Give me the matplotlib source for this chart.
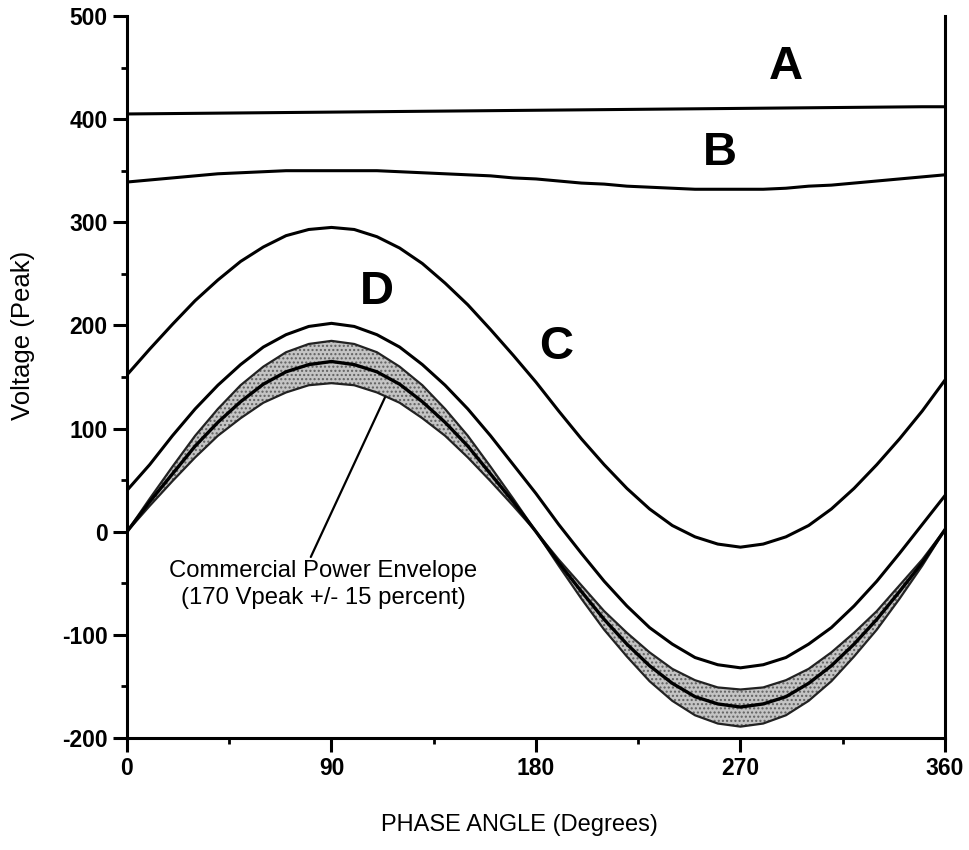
import matplotlib
matplotlib.use("Agg")
import matplotlib.pyplot as plt
from matplotlib.ticker import MultipleLocator

plt.rcParams['font.family'] = ['Liberation Sans', 'DejaVu Sans']
plt.rcParams['axes.unicode_minus'] = False

# phase angle, degrees (every 10)
phase = list(range(0, 361, 10))

# curves (volts peak)
curve_a = [405.0, 405.2, 405.4, 405.6, 405.8, 406.0, 406.2, 406.4, 406.6,
           406.8, 407.0, 407.2, 407.4, 407.6, 407.8, 408.0, 408.2, 408.4,
           408.6, 408.8, 409.0, 409.2, 409.4, 409.6, 409.8, 410.0, 410.2,
           410.4, 410.6, 410.8, 411.0, 411.2, 411.4, 411.6, 411.8, 412.0, 412.0]
curve_b = [339, 341, 343, 345, 347, 348, 349, 350, 350, 350, 350, 350, 349,
           348, 347, 346, 345, 343, 342, 340, 338, 337, 335, 334, 333, 332,
           332, 332, 332, 333, 335, 336, 338, 340, 342, 344, 346]
curve_c = [152, 177, 201, 224, 244, 262, 276, 287, 293, 295, 293, 286, 275,
           260, 241, 220, 196, 171, 145, 117, 90, 65, 42, 22, 6, -5,
           -12, -15, -12, -5, 6, 22, 42, 65, 90, 117, 147]
curve_d = [40, 65, 93, 119, 142, 162, 179, 191, 199, 202, 199, 191, 179,
           162, 142, 119, 93, 65, 37, 7, -21, -48, -72, -93, -109, -122,
           -129, -132, -129, -122, -109, -93, -72, -48, -21, 7, 35]
commercial = [0, 29, 56, 83, 106, 126, 143, 155, 162, 165, 162, 155, 143,
              126, 106, 83, 56, 29, 0, -30, -58, -85, -109, -130, -147, -160,
              -167, -170, -167, -160, -147, -130, -109, -85, -58, -30, 2]
env_outer = [0, 32, 63, 93, 119, 142, 160, 174, 182, 185, 182, 174, 160,
             142, 119, 93, 63, 32, 0, -33, -65, -95, -121, -145, -164, -178,
             -186, -189, -186, -178, -164, -145, -121, -95, -65, -33, 2]
env_inner = [0, 25, 49, 72, 93, 110, 125, 135, 142, 144, 142, 135, 125,
             110, 93, 72, 49, 25, 0, -27, -52, -77, -98, -117, -133, -144,
             -151, -153, -151, -144, -133, -117, -98, -77, -52, -27, 2]

labels = ['A', 'B', 'C', 'D']
label_x = [290, 261, 189, 110]
label_y = [451, 367, 179, 232]

fig = plt.figure(figsize=(9.7, 8.5), dpi=100)
ax = fig.add_axes([0.1309, 0.1318, 0.8433, 0.8494])

ax.fill_between(phase, env_inner, env_outer, facecolor='#c4c4c4',
                hatch='....', edgecolor='#606060', linewidth=0)
ax.plot(phase, env_outer, color='#222222', lw=1.6)
ax.plot(phase, env_inner, color='#222222', lw=1.6)
ax.plot(phase, commercial, color='black', lw=2.4)

for ys in [curve_a, curve_b, curve_c, curve_d]:
    ax.plot(phase, ys, color='black', lw=2.2)

for t, x, y in zip(labels, label_x, label_y):
    ax.text(x, y, t, fontsize=34, fontweight='bold', ha='center', va='center')

ax.annotate('Commercial Power Envelope\n(170 Vpeak +/- 15 percent)',
            xy=(113.5, 130), xytext=(86.3, -51), fontsize=17.2,
            ha='center', va='center', linespacing=1.3,
            arrowprops=dict(arrowstyle='-', color='black', lw=1.6,
                            shrinkA=0, shrinkB=0, relpos=(0.456, 1.0)))

ax.set_xlim(0, 360)
ax.set_ylim(-200, 500)
ax.xaxis.set_major_locator(MultipleLocator(90))
ax.xaxis.set_minor_locator(MultipleLocator(45))
ax.yaxis.set_major_locator(MultipleLocator(100))
ax.yaxis.set_minor_locator(MultipleLocator(50))

ax.spines['top'].set_visible(False)
for s in ['left', 'right', 'bottom']:
    ax.spines[s].set_linewidth(2.2)
ax.tick_params(which='major', length=10, width=2.2, labelsize=16.5, pad=4)
ax.tick_params(which='minor', length=4, width=2)
for lab in ax.get_xticklabels() + ax.get_yticklabels():
    lab.set_fontweight('bold')

ax.set_ylabel('Voltage (Peak)', fontsize=18.5)
ax.yaxis.set_label_coords(-0.112, 0.558)
fig.text(0.536, 0.016, 'PHASE ANGLE (Degrees)', fontsize=17, ha='center', va='bottom')

fig.savefig('out.png', dpi=100)
